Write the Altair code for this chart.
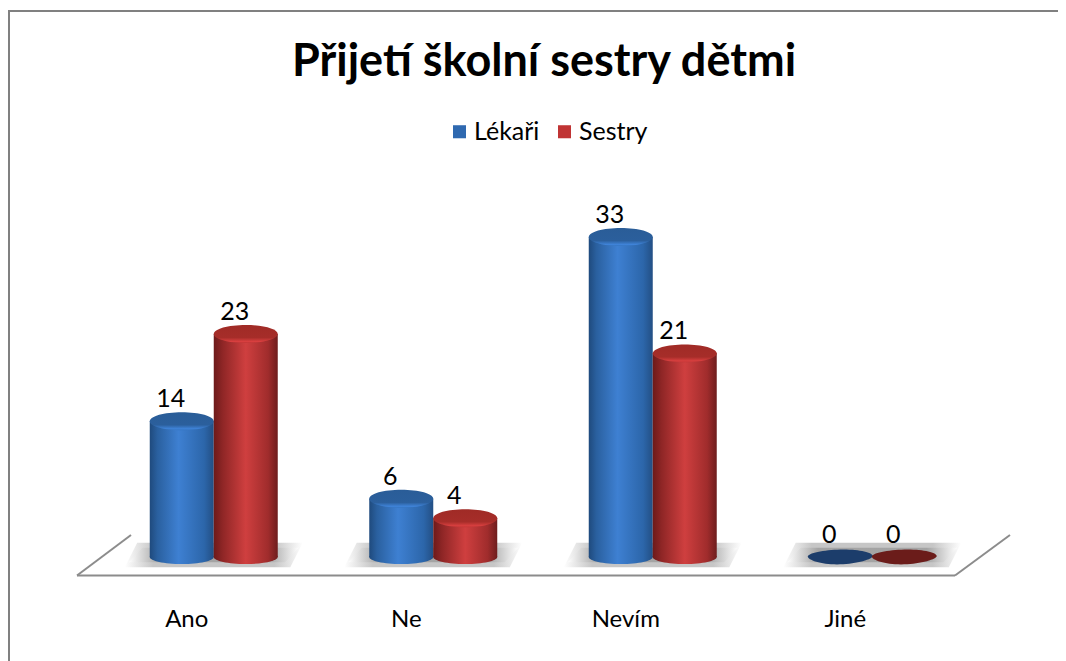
import altair as alt
import pandas as pd

categories = ["Ano", "Ne", "Nevím", "Jiné"]
lekari = [14, 6, 33, 0]
sestry = [23, 4, 21, 0]
series_names = ["Lékaři", "Sestry"]
title_text = "Přijetí školní sestry dětmi"
FONT = "Lato"

rows = []
for c, a, b in zip(categories, lekari, sestry):
    rows.append({"cat": c, "series": series_names[0], "value": a})
    rows.append({"cat": c, "series": series_names[1], "value": b})
df = pd.DataFrame(rows)

xs = alt.X("cat:N", sort=categories, title=None,
           scale=alt.Scale(range=[96, 974], paddingInner=0, paddingOuter=0),
           axis=alt.Axis(labelAngle=0, labelFont=FONT, labelFontSize=24, labelColor="#000000",
                         domain=False, ticks=False, grid=False, labelOffset=-27,
                         labelPadding=0, offset=-54, labelBaseline="top"))
xo = alt.XOffset("series:N", sort=series_names,
                 scale=alt.Scale(paddingInner=0, paddingOuter=0.715))
y_scale = alt.Scale(domain=[0, 33], range=[549, 229], nice=False, zero=True)
ys = alt.Y("value:Q", title=None, axis=None, scale=y_scale)


def hgrad(stops):
    return alt.Gradient(gradient="linear", x1=0, x2=1, y1=0, y2=0,
                        stops=[alt.GradientStop(color=c, offset=o) for o, c in stops])


def vgrad(stops):
    return alt.Gradient(gradient="linear", x1=0, x2=0, y1=0, y2=1,
                        stops=[alt.GradientStop(color=c, offset=o) for o, c in stops])


blue_body = hgrad([(0, "#1f4a7d"), (0.12, "#2a609f"), (0.45, "#3e80d2"), (0.85, "#2c66aa"), (1, "#234f84")])
red_body = hgrad([(0, "#6d1a1a"), (0.14, "#8f2626"), (0.5, "#cf3f3f"), (0.85, "#a02c2c"), (1, "#6e1d1d")])
blue_top = vgrad([(0, "#2a5d98"), (0.7, "#2b5f9c"), (0.92, "#3f83d8"), (1, "#3474c0")])
red_top = vgrad([(0, "#a02b26"), (0.7, "#a62d29"), (0.92, "#d83f3f"), (1, "#c03535")])

ELLIPSE_TOP = "M-1,0C-1,-.155 -.55,-.28 0,-.28C.55,-.28 1,-.155 1,0C1,.155 .55,.28 0,.28C-.55,.28 -1,.155 -1,0Z"
ELLIPSE_BOT = "M-1,0C-1,-.12 -.55,-.22 0,-.22C.55,-.22 1,-.12 1,0C1,.12 .55,.22 0,.22C-.55,.22 -1,.12 -1,0Z"
ELLIPSE_FLAT = "M-1,-.02C-.95,-.14 -.4,-.23 .1,-.23C.6,-.23 1,-.14 1,-.02C.95,.1 .4,.23 -.1,.23C-.6,.23 -1,.1 -1,-.02Z"
SHADOW = "M-.86,-.137L1,-.137L.86,.137L-1,.137Z"
SHADOW_INNER = "M-.84,-.085L1,-.085L.84,.085L-1,.085Z"

base = alt.Chart(df)


def s(name):
    return alt.datum.series == name


shadow_outer = alt.Chart(pd.DataFrame({"cat": categories})).mark_point(
    shape=SHADOW, size=178 ** 2, filled=True, opacity=0.6, strokeWidth=0,
    fill=hgrad([(0, "#ffffff"), (0.16, "#a0a0a0"), (0.84, "#a0a0a0"), (1, "#ffffff")]),
).encode(x=xs, y=alt.value(547))
shadow_inner = alt.Chart(pd.DataFrame({"cat": categories})).mark_point(
    shape=SHADOW_INNER, size=170 ** 2, filled=True, opacity=0.9, strokeWidth=0,
    fill=hgrad([(0, "#ffffff"), (0.18, "#a0a0a0"), (0.82, "#a0a0a0"), (1, "#ffffff")]),
).encode(x=xs, y=alt.value(547))

# solid bars beneath the shaded bodies: they supply the colour scale and legend
legend_bars = base.mark_bar(size=62).encode(
    x=xs, xOffset=xo, y=ys,
    color=alt.Color("series:N", sort=series_names,
                    scale=alt.Scale(domain=series_names, range=["#2f69b0", "#c03434"]),
                    legend=alt.Legend(title=None, orient="none", legendX=439, legendY=111,
                                      direction="horizontal", symbolType="square", symbolSize=170,
                                      symbolStrokeWidth=0, labelFont=FONT, labelFontSize=25, labelColor="#000000",
                                      columnPadding=12, labelOffset=2, padding=0)),
)


def cylinder(name, body, top):
    d = base.transform_filter(s(name))
    pos = dict(x=xs, xOffset=xo, y=ys)
    bottom = d.transform_filter("datum.value > 0").transform_calculate(zero="0").mark_point(
        shape=ELLIPSE_BOT, size=64 ** 2, filled=True, fill=body, opacity=1, strokeWidth=0
    ).encode(x=xs, xOffset=xo, y=alt.Y("zero:Q", scale=y_scale, axis=None, title=None))
    bars = d.mark_bar(fill=body, size=64, opacity=1).encode(**pos)
    cap = d.transform_filter("datum.value > 0").mark_point(
        shape=ELLIPSE_TOP, size=64 ** 2, filled=True, fill=top, opacity=1, strokeWidth=0
    ).encode(**pos)
    return [bottom, bars, cap]


flat = base.transform_filter("datum.value == 0").mark_point(
    shape=ELLIPSE_FLAT, size=65 ** 2, filled=True, opacity=1, strokeWidth=0
).encode(
    x=xs, xOffset=xo, y=ys,
    fill=alt.Fill("series:N", scale=alt.Scale(domain=series_names, range=["#1c3d6b", "#6b1c1a"]), legend=None),
)

labels = base.mark_text(font=FONT, fontSize=25, color="#000000", dx=-11, dy=-22, baseline="middle").encode(
    x=xs, xOffset=xo, y=ys, text="value:Q"
)

GRAY = "#8c8c8c"


def line(x1, y1, x2, y2, color=GRAY, w=2):
    return alt.Chart(pd.DataFrame({"a": [0]})).mark_rule(color=color, strokeWidth=w).encode(
        x=alt.value(x1), x2=alt.value(x2), y=alt.value(y1), y2=alt.value(y2)
    )


frame_and_floor = [
    line(0.5, 3, 0.5, 653, "#808080", 3),
    line(-1, 3, 1050, 3, "#808080", 2),
    line(69, 567.5, 947, 567.5),
    line(69, 567.5, 123, 527),
    line(947, 567.5, 1002, 527),
]

layers = [shadow_outer, shadow_inner, legend_bars] + frame_and_floor[2:] + cylinder("Lékaři", blue_body, blue_top) + \
    cylinder("Sestry", red_body, red_top) + [flat, labels] + frame_and_floor[:2]

chart = alt.layer(*layers).resolve_scale(color="independent", fill="independent").properties(
    width=1050, height=653, padding=0, autosize="none", background="#ffffff",
    title=alt.TitleParams(title_text, font=FONT, fontSize=45, fontWeight="bold", color="#000000",
                          anchor="middle", frame="group", offset=-99, dx=11, baseline="middle"),
).configure_view(stroke=None)

chart.save("out.html", embed_options={"renderer": "svg", "actions": False})
